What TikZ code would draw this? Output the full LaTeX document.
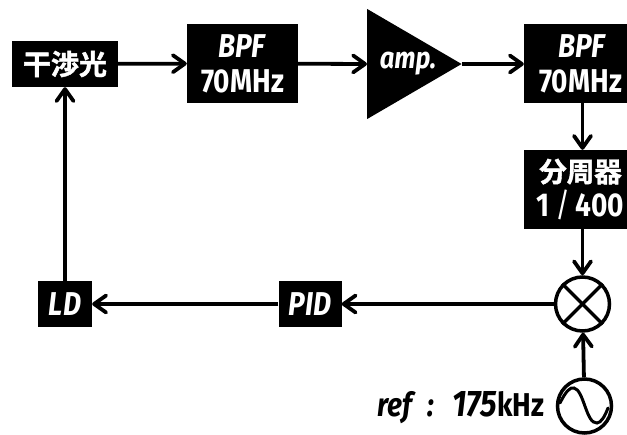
\documentclass[tikz,border=0pt]{standalone}
\usepackage{fontspec}
\setmainfont{Fira Sans}[FakeStretch=0.85]
\newfontfamily\cjk{Noto Sans CJK JP}[UprightFont=* Bold,BoldFont=* Bold,BoldFeatures={FakeBold=1.5}]
\usetikzlibrary{arrows.meta,shapes.geometric}
\tikzset{
  blockbox/.style={fill=black,text=white,inner sep=0pt,align=center,font=\fontsize{33}{35}\selectfont\bfseries,minimum height=46pt},
  ring/.style={circle,draw=black,line width=3.5pt,inner sep=0pt,minimum size=54pt},
  flow/.style={line width=3.8pt,-{Straight Barb[round,length=12pt,width=17pt,line width=3.8pt]}},
}
\begin{document}
\begin{tikzpicture}[x=1pt,y=-1pt]
\useasboundingbox (0,0) rectangle (627,435);
\clip (0,0) rectangle (627,435);
% upper row
\node [blockbox,minimum width=106pt,font=\fontsize{28}{30}\selectfont\cjk\bfseries] (fringe) at (65,64) {干渉光};
\node [blockbox,minimum width=111pt,minimum height=79pt] (bpfa) at (242.5,63.5) {\textit{BPF}\\70MHz};
\node [isosceles triangle,isosceles triangle stretches,fill=black,text=white,inner sep=0pt,minimum width=110pt,minimum height=93pt,anchor=lower side,font=\fontsize{30}{32}\selectfont\bfseries\itshape] (amp) at (367,64) {\hspace*{10pt}amp.};
\node [blockbox,minimum width=117pt,minimum height=79pt] (bpfb) at (582.5,63.5) {\textit{BPF}\\70MHz\hspace*{4pt}};
\node [blockbox,minimum width=117pt,minimum height=79pt] (divider) at (582.5,189.5) {{\fontsize{27.5}{30}\selectfont\cjk\bfseries 分周器}\hspace*{4pt}\\1\,\textmd{/}\,400\hspace*{4pt}};
% lower row
\node [ring] (mixer) at (582.5,304) {};
\draw [line width=3.5pt] (mixer.north west) -- (mixer.south east);
\draw [line width=3.5pt] (mixer.north east) -- (mixer.south west);
\node [blockbox,minimum width=63pt] (pid) at (310,304) {\textit{PID}};
\node [blockbox,minimum width=54pt] (ld) at (65,304) {\textit{LD}};
\node [ring] (osc) at (584.5,406) {};
\draw [line width=3pt,line cap=round] (560,403) .. controls (566,391) and (570,387) .. (574,388) .. controls (584,390) and (586,424) .. (597,423) .. controls (601,423) and (605,416) .. (608,408);
\node [anchor=east,font=\fontsize{33}{35}\selectfont\bfseries] (reflabel) at (548,408) {\textit{ref\hspace{16pt}:\hspace{18pt}{\fontsize{37}{37}\selectfont 175}}kHz};
% connections
\draw [flow] (fringe) -- (bpfa);
\draw [flow] (bpfa) -- (amp.lower side);
\draw [flow] (amp.apex) -- (bpfb.west |- amp.apex);
\draw [flow] (bpfb) -- (divider);
\draw [flow] (divider) -- (mixer);
\draw [flow] (osc) -- (mixer);
\draw [flow] (mixer) -- (pid);
\draw [flow] (pid) -- (ld);
\draw [flow] (ld) -- (fringe);
\end{tikzpicture}
\end{document}
